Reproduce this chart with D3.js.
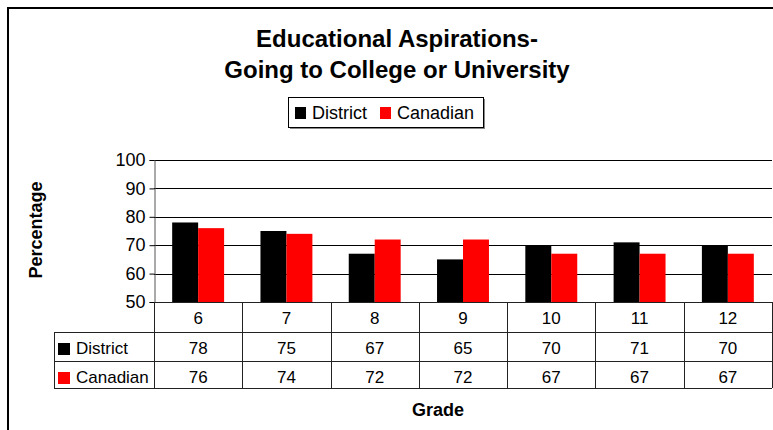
<!DOCTYPE html>
<html>
<head>
    <meta charset='utf-8'/>
    <title>Educational Aspirations</title>
    <style>
        body {
            margin: 0;
            background: #fff;
        }

        text {
            font-family: "Liberation Sans", Arial, sans-serif;
            fill: #000;
        }

        .grid line {
            stroke: #000;
            shape-rendering: crispEdges;
        }

        .tbl line {
            stroke: #222;
            shape-rendering: crispEdges;
        }
    </style>
</head>
<body>
<div id="chart"></div>

<script src="https://d3js.org/d3.v7.min.js"></script>
<script type="text/javascript">

    // data
    var grades = ["6", "7", "8", "9", "10", "11", "12"];
    var seriesNames = ["District", "Canadian"];
    var district = [78, 75, 67, 65, 70, 71, 70];
    var canadian = [76, 74, 72, 72, 67, 67, 67];
    var yTicks = [50, 60, 70, 80, 90, 100];
    var colors = ["#000000", "#FF0000"];

    // dims
    var svg_dx = 773,
        svg_dy = 430,
        plot = {left: 154, right: 772, top: 160, bottom: 302},
        rowH = [30, 29, 27],
        labelLeft = 54;

    var svg = d3.select("#chart")
        .append("svg")
        .attr("width", svg_dx)
        .attr("height", svg_dy);

    // chart frame (runs off the right and bottom edges)
    svg.append("rect")
        .attr("x", 8)
        .attr("y", 8)
        .attr("width", 900)
        .attr("height", 600)
        .attr("fill", "none")
        .attr("stroke", "#000")
        .attr("stroke-width", 2);

    // scales
    var x = d3.scaleBand()
        .domain(grades)
        .range([plot.left, plot.right]);

    var xs = d3.scaleBand()
        .domain(seriesNames)
        .range([0, x.bandwidth()])
        .paddingOuter(0.7);

    var y = d3.scaleLinear()
        .domain([50, 100])
        .range([plot.bottom, plot.top]);

    /* title */
    var title = svg.append("text")
        .attr("text-anchor", "middle")
        .style("font-weight", "bold")
        .style("font-size", "24px");
    title.append("tspan")
        .attr("x", 397)
        .attr("y", 47)
        .text("Educational Aspirations-");
    title.append("tspan")
        .attr("x", 397)
        .attr("y", 78)
        .text("Going to College or University");

    /* legend */
    var legend = svg.append("g").attr("id", "legend");
    legend.append("rect")
        .attr("x", 290)
        .attr("y", 99)
        .attr("width", 195)
        .attr("height", 30)
        .attr("fill", "#888");
    legend.append("rect")
        .attr("x", 288.5)
        .attr("y", 97.5)
        .attr("width", 195)
        .attr("height", 30)
        .attr("fill", "#fff")
        .attr("stroke", "#000");
    var legendX = [295, 380];
    seriesNames.forEach(function (s, i) {
        legend.append("rect")
            .attr("x", legendX[i])
            .attr("y", 107)
            .attr("width", 11)
            .attr("height", 12)
            .attr("fill", colors[i]);
        legend.append("text")
            .attr("x", legendX[i] + 17)
            .attr("y", 119)
            .style("font-size", "18px")
            .text(s);
    });

    /* gridlines */
    svg.append("g")
        .attr("class", "grid")
        .selectAll("line")
        .data(yTicks.slice(1))
        .enter()
        .append("line")
        .attr("x1", plot.left)
        .attr("x2", plot.right)
        .attr("y1", d => Math.round(y(d)) + 0.5)
        .attr("y2", d => Math.round(y(d)) + 0.5);

    /* bars */
    var rows = grades.map((g, i) => ({grade: g, values: [district[i], canadian[i]]}));

    svg.append("g")
        .selectAll("g")
        .data(rows)
        .enter()
        .append("g")
        .attr("transform", d => "translate(" + x(d.grade) + ",0)")
        .selectAll("rect")
        .data(d => d.values.map((v, i) => ({name: seriesNames[i], value: v, i: i})))
        .enter()
        .append("rect")
        .attr("x", d => xs(d.name))
        .attr("width", xs.bandwidth())
        .attr("y", d => y(d.value))
        .attr("height", d => y(50) - y(d.value))
        .attr("fill", d => colors[d.i]);

    /* y axis */
    var yAxis = d3.axisLeft(y)
        .tickValues(yTicks)
        .tickSize(5)
        .tickPadding(4);

    var gy = svg.append("g")
        .attr("transform", "translate(" + (plot.left + 0.5) + ",0)")
        .call(yAxis);
    gy.select(".domain").attr("stroke", "#555");
    gy.selectAll(".tick line").attr("stroke", "#000");
    gy.selectAll("text")
        .style("font-size", "18px")
        .attr("font-family", null);

    /* data table */
    var tbl = svg.append("g").attr("class", "tbl");
    var rowY = [plot.bottom, plot.bottom + rowH[0], plot.bottom + rowH[0] + rowH[1], plot.bottom + rowH[0] + rowH[1] + rowH[2]];

    // horizontal rules
    rowY.forEach(function (ry, i) {
        tbl.append("line")
            .attr("x1", i === 0 ? plot.left : labelLeft)
            .attr("x2", plot.right)
            .attr("y1", ry + 0.5)
            .attr("y2", ry + 0.5)
            .attr("stroke", i === 0 ? "#000" : "#222");
    });

    // vertical rules at category boundaries
    var bounds = grades.map(g => x(g)).concat([plot.right]);
    tbl.selectAll("line.v")
        .data(bounds)
        .enter()
        .append("line")
        .attr("class", "v")
        .attr("x1", d => Math.round(d) + 0.5)
        .attr("x2", d => Math.round(d) + 0.5)
        .attr("y1", rowY[0])
        .attr("y2", rowY[3]);
    tbl.append("line")
        .attr("x1", labelLeft + 0.5)
        .attr("x2", labelLeft + 0.5)
        .attr("y1", rowY[1])
        .attr("y2", rowY[3]);

    // header row
    tbl.selectAll("text.hdr")
        .data(grades)
        .enter()
        .append("text")
        .attr("class", "hdr")
        .attr("x", d => x(d) + x.bandwidth() / 2)
        .attr("y", rowY[0] + 22)
        .attr("text-anchor", "middle")
        .style("font-size", "17px")
        .text(d => d);

    // series rows
    [district, canadian].forEach(function (vals, r) {
        var base = rowY[r + 1];
        tbl.append("rect")
            .attr("x", 58)
            .attr("y", base + 11)
            .attr("width", 12)
            .attr("height", 12)
            .attr("fill", colors[r]);
        tbl.append("text")
            .attr("x", 76)
            .attr("y", base + 22)
            .style("font-size", "17px")
            .text(seriesNames[r]);
        tbl.selectAll("text.r" + r)
            .data(vals)
            .enter()
            .append("text")
            .attr("class", "r" + r)
            .attr("x", (d, i) => x(grades[i]) + x.bandwidth() / 2)
            .attr("y", base + 22)
            .attr("text-anchor", "middle")
            .style("font-size", "17px")
            .text(d => d);
    });

    /* axis titles */
    svg.append("text")
        .attr("transform", "translate(42,230) rotate(-90)")
        .attr("text-anchor", "middle")
        .style("font-weight", "bold")
        .style("font-size", "18px")
        .text("Percentage");

    svg.append("text")
        .attr("x", 438)
        .attr("y", 416)
        .attr("text-anchor", "middle")
        .style("font-weight", "bold")
        .style("font-size", "18px")
        .text("Grade");

</script>

</body>
</html>
